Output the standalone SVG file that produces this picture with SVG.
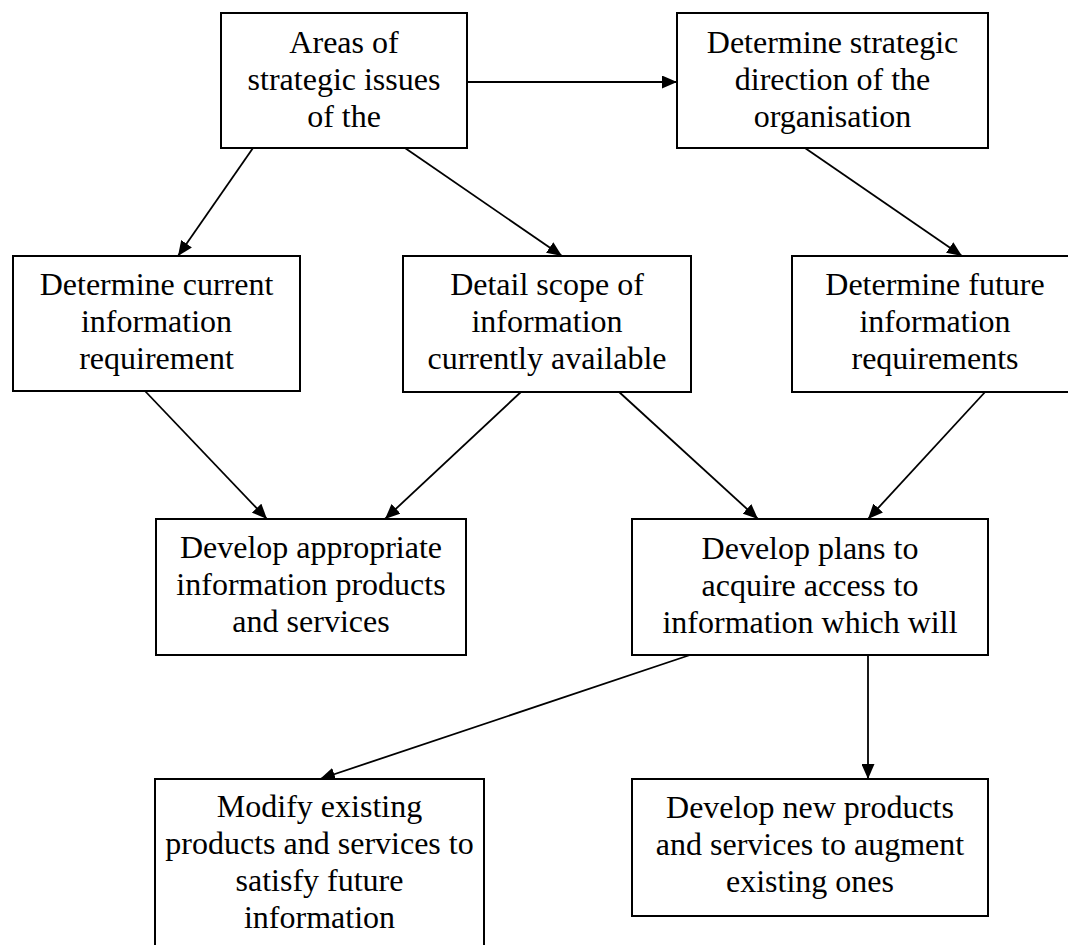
<svg xmlns="http://www.w3.org/2000/svg" width="1068" height="945" viewBox="0 0 1068 945">
  <style>
    .box { fill: #ffffff; stroke: #000000; stroke-width: 2; }
    .lbl { font-family: "Liberation Serif", "Times New Roman", serif; font-size: 32px; fill: #000000; text-anchor: middle; }
    .edge { stroke: #000000; stroke-width: 1.8; fill: none; marker-end: url(#arrow); }
  </style>
  <defs>
    <marker id="arrow" markerUnits="userSpaceOnUse" markerWidth="16" markerHeight="13" refX="15" refY="6.5" orient="auto">
      <path d="M0,0 L15,6.5 L0,13 Z" fill="#000000"/>
    </marker>
  </defs>

  <rect width="1068" height="945" fill="#ffffff"/>

  <!-- connectors -->
  <g id="connectors">
    <line class="edge" x1="467" y1="82" x2="677" y2="82"/>
    <line class="edge" x1="253" y1="148" x2="178" y2="256"/>
    <line class="edge" x1="405" y1="148" x2="562" y2="256"/>
    <line class="edge" x1="805" y1="148" x2="962" y2="256"/>
    <line class="edge" x1="145" y1="391" x2="267" y2="519"/>
    <line class="edge" x1="522" y1="391" x2="385" y2="519"/>
    <line class="edge" x1="618" y1="391" x2="758" y2="519"/>
    <line class="edge" x1="986" y1="391" x2="868" y2="519"/>
    <line class="edge" x1="690" y1="655" x2="320" y2="779"/>
    <line class="edge" x1="868" y1="655" x2="868" y2="779"/>
  </g>

  <g id="strategic-issues">
    <rect class="box" x="221" y="13" width="246" height="135"/>
    <text class="lbl" x="344" y="53">Areas of</text>
    <text class="lbl" x="344" y="90">strategic issues</text>
    <text class="lbl" x="344" y="127">of the</text>
  </g>

  <g id="strategic-direction">
    <rect class="box" x="677" y="13" width="311" height="135"/>
    <text class="lbl" x="832.5" y="53">Determine strategic</text>
    <text class="lbl" x="832.5" y="90">direction of the</text>
    <text class="lbl" x="832.5" y="127">organisation</text>
  </g>

  <g id="current-requirement">
    <rect class="box" x="13" y="256" width="287" height="135"/>
    <text class="lbl" x="156.5" y="295">Determine current</text>
    <text class="lbl" x="156.5" y="332">information</text>
    <text class="lbl" x="156.5" y="369">requirement</text>
  </g>

  <g id="scope-available">
    <rect class="box" x="403" y="256" width="288" height="136"/>
    <text class="lbl" x="547" y="295">Detail scope of</text>
    <text class="lbl" x="547" y="332">information</text>
    <text class="lbl" x="547" y="369">currently available</text>
  </g>

  <g id="future-requirements">
    <rect class="box" x="792" y="256" width="286" height="136"/>
    <text class="lbl" x="935" y="295">Determine future</text>
    <text class="lbl" x="935" y="332">information</text>
    <text class="lbl" x="935" y="369">requirements</text>
  </g>

  <g id="appropriate-products">
    <rect class="box" x="156" y="519" width="310" height="136"/>
    <text class="lbl" x="311" y="558">Develop appropriate</text>
    <text class="lbl" x="311" y="595">information products</text>
    <text class="lbl" x="311" y="632">and services</text>
  </g>

  <g id="acquire-access">
    <rect class="box" x="632" y="519" width="356" height="136"/>
    <text class="lbl" x="810" y="559">Develop plans to</text>
    <text class="lbl" x="810" y="596">acquire access to</text>
    <text class="lbl" x="810" y="633">information which will</text>
  </g>

  <g id="modify-existing">
    <rect class="box" x="155" y="779" width="329" height="175"/>
    <text class="lbl" x="319.5" y="817">Modify existing</text>
    <text class="lbl" x="319.5" y="854">products and services to</text>
    <text class="lbl" x="319.5" y="891">satisfy future</text>
    <text class="lbl" x="319.5" y="928">information</text>
  </g>

  <g id="new-products">
    <rect class="box" x="632" y="779" width="356" height="137"/>
    <text class="lbl" x="810" y="818">Develop new products</text>
    <text class="lbl" x="810" y="855">and services to augment</text>
    <text class="lbl" x="810" y="892">existing ones</text>
  </g>
</svg>
